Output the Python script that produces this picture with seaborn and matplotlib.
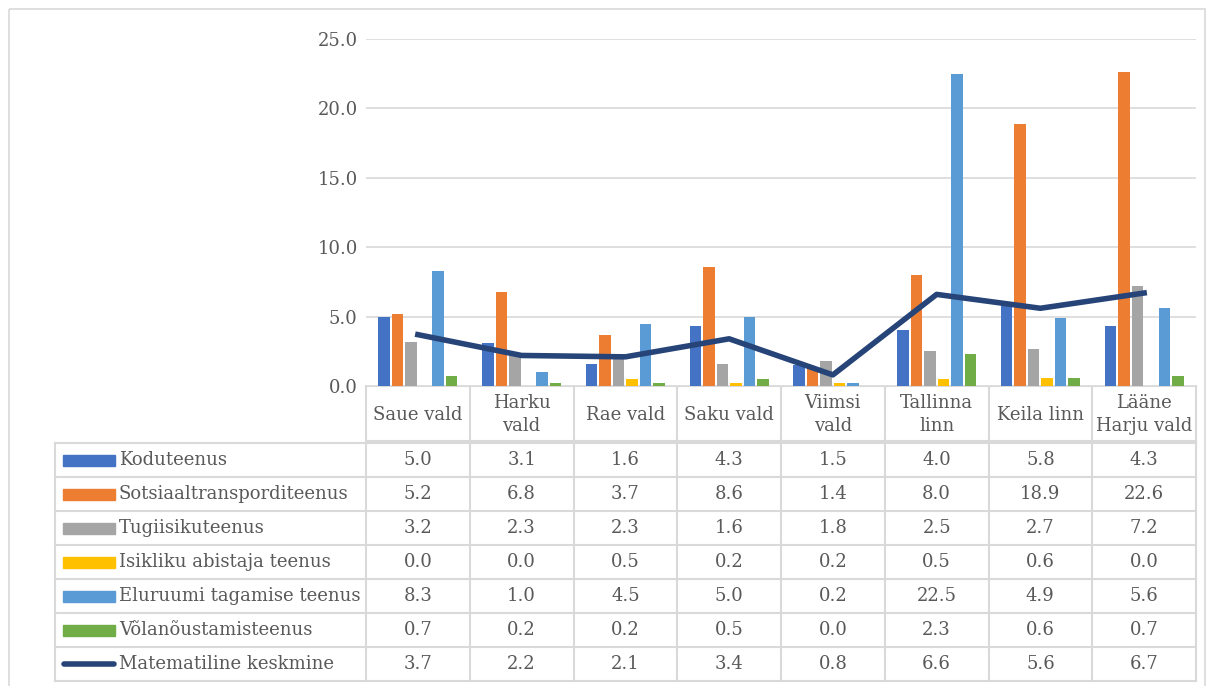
import numpy as np
import pandas as pd
import matplotlib.pyplot as plt
import seaborn as sns
from matplotlib.patches import Rectangle

categories = ["Saue vald", "Harku\nvald", "Rae vald", "Saku vald", "Viimsi\nvald",
              "Tallinna\nlinn", "Keila linn", "Lääne\nHarju vald"]
series_names = ["Koduteenus", "Sotsiaaltransporditeenus", "Tugiisikuteenus",
                "Isikliku abistaja teenus", "Eluruumi tagamise teenus", "Võlanõustamisteenus"]
koduteenus = [5.0, 3.1, 1.6, 4.3, 1.5, 4.0, 5.8, 4.3]
sotsiaaltransport = [5.2, 6.8, 3.7, 8.6, 1.4, 8.0, 18.9, 22.6]
tugiisik = [3.2, 2.3, 2.3, 1.6, 1.8, 2.5, 2.7, 7.2]
isiklik_abistaja = [0.0, 0.0, 0.5, 0.2, 0.2, 0.5, 0.6, 0.0]
eluruum = [8.3, 1.0, 4.5, 5.0, 0.2, 22.5, 4.9, 5.6]
volanoustamine = [0.7, 0.2, 0.2, 0.5, 0.0, 2.3, 0.6, 0.7]
keskmine = [3.7, 2.2, 2.1, 3.4, 0.8, 6.6, 5.6, 6.7]
line_name = "Matematiline keskmine"

colors = ["#4472C4", "#ED7D31", "#A5A5A5", "#FFC000", "#5B9BD5", "#70AD47"]
line_color = "#264478"
text_color = "#595959"
grid_color = "#D9D9D9"

all_series = [koduteenus, sotsiaaltransport, tugiisik, isiklik_abistaja, eluruum, volanoustamine]
rows = []
for name, vals in zip(series_names, all_series):
    for cat, v in zip(categories, vals):
        rows.append({"Category": cat, "Series": name, "Value": v})
df = pd.DataFrame(rows)

plt.rcParams['font.family'] = ['DejaVu Serif']
fs = 13
W, H = 1211, 686
fig = plt.figure(figsize=(W / 100, H / 100), dpi=100)

# plot area in pixels
left, right, top, bottom = 366, 1196, 39, 386
ax = fig.add_axes([left / W, 1 - bottom / H, (right - left) / W, (bottom - top) / H])
sns.barplot(data=df, x="Category", y="Value", hue="Series", palette=colors,
            order=categories, hue_order=series_names, width=0.78, gap=0.15,
            saturation=1, legend=False, ax=ax)
sns.lineplot(x=np.arange(len(categories)), y=keskmine, color=line_color,
             linewidth=4, ax=ax, zorder=5)
ax.set_xlim(-0.5, len(categories) - 0.5)
ax.set_ylim(0, 25)
ax.set_yticks([0, 5, 10, 15, 20, 25])
ax.set_yticklabels([f"{v:.1f}" for v in [0, 5, 10, 15, 20, 25]], fontsize=fs, color=text_color)
ax.tick_params(axis='y', length=0, pad=6)
ax.set_xticks([])
ax.set_xlabel("")
ax.set_ylabel("")
ax.grid(axis='y', color=grid_color, linewidth=1.2)
ax.set_axisbelow(True)
for s in ax.spines.values():
    s.set_visible(False)

# overlay in pixel coordinates for the data table and outer border
ov = fig.add_axes([0, 0, 1, 1], zorder=-1)
ov.set_xlim(0, W)
ov.set_ylim(H, 0)
ov.axis('off')
ov.add_patch(Rectangle((8.5, 8.5), W - 15, H, fill=False, edgecolor=grid_color, linewidth=1.2))

colw = (right - left) / len(categories)
xs = [left + i * colw for i in range(len(categories) + 1)]
head_bot = 441
row_top, row_h = 443, 34.0
nrows = len(series_names) + 1
tab_bot = row_top + nrows * row_h
tab_left = 55
lc = dict(color=grid_color, linewidth=1.5)

# header lines
ov.plot([left, right], [bottom, bottom], **lc)
for x in xs:
    ov.plot([x, x], [bottom, head_bot], **lc)
    ov.plot([x, x], [row_top, tab_bot], **lc)
ov.plot([tab_left, tab_left], [row_top, tab_bot], **lc)
for r in range(nrows + 1):
    y = row_top + r * row_h
    ov.plot([tab_left, right], [y, y], **lc)
ov.plot([left, right], [head_bot, head_bot], **lc)

for i, cat in enumerate(categories):
    ov.text(xs[i] + colw / 2, (bottom + head_bot) / 2 + 1, cat, ha='center', va='center',
            fontsize=fs, color=text_color, linespacing=1.3)

all_vals = all_series + [keskmine]
all_names = series_names + [line_name]
for r, (name, vals) in enumerate(zip(all_names, all_vals)):
    yc = row_top + (r + 0.5) * row_h
    if r < len(series_names):
        ov.add_patch(Rectangle((63, yc - 5.5), 52, 11, color=colors[r]))
    else:
        ov.plot([64, 114], [yc, yc], color=line_color, linewidth=4, solid_capstyle='round')
    ov.text(119, yc, name, ha='left', va='center', fontsize=fs, color=text_color)
    for i, v in enumerate(vals):
        ov.text(xs[i] + colw / 2, yc, f"{v:.1f}", ha='center', va='center',
                fontsize=fs, color=text_color)

fig.savefig("out.png", dpi=100)
